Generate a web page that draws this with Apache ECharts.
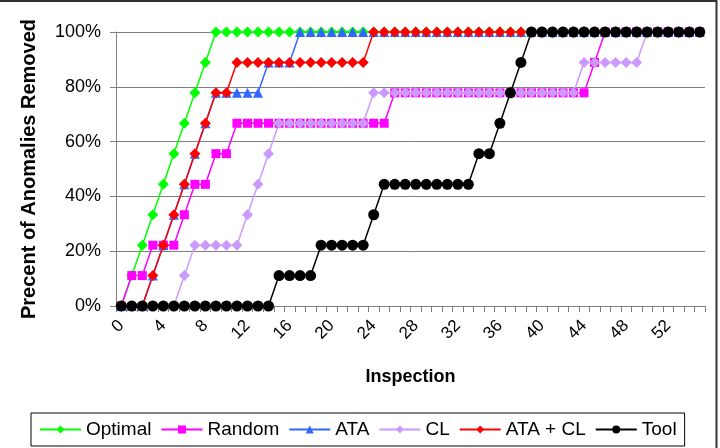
<!DOCTYPE html>
<html>
<head>
<meta charset="utf-8">
<script src="https://cdn.jsdelivr.net/npm/echarts@6/dist/echarts.min.js"></script>
<style>
  html, body { margin: 0; padding: 0; background: #fff; }
  #chart { width: 720px; height: 448px; }
</style>
</head>
<body>
<div id="chart"></div>
<script>
// inspection steps 0..55
const inspections = Array.from({ length: 56 }, (_, i) => String(i))

// percent of anomalies removed (9 anomalies -> steps of 11.1%)
const optimal = [
  0, 11.1, 22.2, 33.3, 44.4, 55.6, 66.7, 77.8, 88.9, 100,
  100, 100, 100, 100, 100, 100, 100, 100, 100, 100,
  100, 100, 100, 100, 100, 100, 100, 100, 100, 100,
  100, 100, 100, 100, 100, 100, 100, 100, 100, 100,
  100, 100, 100, 100, 100, 100, 100, 100, 100, 100,
  100, 100, 100, 100, 100, 100
]
const random = [
  0, 11.1, 11.1, 22.2, 22.2, 22.2, 33.3, 44.4, 44.4, 55.6,
  55.6, 66.7, 66.7, 66.7, 66.7, 66.7, 66.7, 66.7, 66.7, 66.7,
  66.7, 66.7, 66.7, 66.7, 66.7, 66.7, 77.8, 77.8, 77.8, 77.8,
  77.8, 77.8, 77.8, 77.8, 77.8, 77.8, 77.8, 77.8, 77.8, 77.8,
  77.8, 77.8, 77.8, 77.8, 77.8, 88.9, 100, 100, 100, 100,
  100, 100, 100, 100, 100, 100
]
const ata = [
  0, 0, 0, 11.1, 22.2, 33.3, 44.4, 55.6, 66.7, 77.8,
  77.8, 77.8, 77.8, 77.8, 88.9, 88.9, 88.9, 100, 100, 100,
  100, 100, 100, 100, 100, 100, 100, 100, 100, 100,
  100, 100, 100, 100, 100, 100, 100, 100, 100, 100,
  100, 100, 100, 100, 100, 100, 100, 100, 100, 100,
  100, 100, 100, 100, 100, 100
]
const cl = [
  0, 0, 0, 0, 0, 0, 11.1, 22.2, 22.2, 22.2,
  22.2, 22.2, 33.3, 44.4, 55.6, 66.7, 66.7, 66.7, 66.7, 66.7,
  66.7, 66.7, 66.7, 66.7, 77.8, 77.8, 77.8, 77.8, 77.8, 77.8,
  77.8, 77.8, 77.8, 77.8, 77.8, 77.8, 77.8, 77.8, 77.8, 77.8,
  77.8, 77.8, 77.8, 77.8, 88.9, 88.9, 88.9, 88.9, 88.9, 88.9,
  100, 100, 100, 100, 100, 100
]
const ataCl = [
  0, 0, 0, 11.1, 22.2, 33.3, 44.4, 55.6, 66.7, 77.8,
  77.8, 88.9, 88.9, 88.9, 88.9, 88.9, 88.9, 88.9, 88.9, 88.9,
  88.9, 88.9, 88.9, 88.9, 100, 100, 100, 100, 100, 100,
  100, 100, 100, 100, 100, 100, 100, 100, 100, 100,
  100, 100, 100, 100, 100, 100, 100, 100, 100, 100,
  100, 100, 100, 100, 100, 100
]
const tool = [
  0, 0, 0, 0, 0, 0, 0, 0, 0, 0,
  0, 0, 0, 0, 0, 11.1, 11.1, 11.1, 11.1, 22.2,
  22.2, 22.2, 22.2, 22.2, 33.3, 44.4, 44.4, 44.4, 44.4, 44.4,
  44.4, 44.4, 44.4, 44.4, 55.6, 55.6, 66.7, 77.8, 88.9, 100,
  100, 100, 100, 100, 100, 100, 100, 100, 100, 100,
  100, 100, 100, 100, 100, 100
]

const font = 'Arial, "Liberation Sans", sans-serif'

const mkSeries = (name, data, color, symbol, size) => ({
  name,
  type: 'line',
  data,
  symbol,
  symbolSize: size,
  showAllSymbol: true,
  animation: false,
  lineStyle: { color, width: 1.5 },
  itemStyle: { color }
})

const chart = echarts.init(document.getElementById('chart'))
chart.setOption({
  animation: false,
  backgroundColor: '#fff',
  textStyle: { fontFamily: font },
  graphic: [
    {
      type: 'rect',
      shape: { x: -5, y: 1, width: 721.5, height: 460 },
      style: { fill: 'none', stroke: '#333', lineWidth: 2 }
    }
  ],
  grid: { left: 116, right: 15, top: 32, bottom: 142 },
  legend: {
    left: 31,
    top: 413,
    padding: [7, 8, 7, 8],
    itemGap: 9,
    itemWidth: 41,
    itemHeight: 10,
    borderColor: '#000',
    borderWidth: 1,
    textStyle: { fontSize: 19, color: '#000', fontFamily: font },
    data: ['Optimal', 'Random', 'ATA', 'CL', 'ATA + CL', 'Tool']
  },
  xAxis: {
    type: 'category',
    data: inspections,
    boundaryGap: true,
    name: 'Inspection',
    nameLocation: 'middle',
    nameGap: 62,
    nameTextStyle: { fontSize: 18, fontWeight: 'bold', color: '#000' },
    axisLine: { lineStyle: { color: '#808080', width: 1 } },
    axisTick: { show: true, interval: 0, length: 6, lineStyle: { color: '#808080' } },
    axisLabel: { interval: 3, rotate: 45, fontSize: 17, color: '#000', margin: 17 },
    splitLine: { show: false }
  },
  yAxis: {
    type: 'value',
    min: 0,
    max: 100,
    interval: 20,
    name: 'Precent of Anomalies Removed',
    nameLocation: 'middle',
    nameRotate: 90,
    nameGap: 77,
    nameTextStyle: { fontSize: 20, fontWeight: 'bold', color: '#000' },
    axisLine: { show: true, lineStyle: { color: '#808080', width: 1 } },
    axisTick: { show: true, length: 6, lineStyle: { color: '#808080' } },
    axisLabel: { formatter: '{value}%', fontSize: 18, color: '#000', margin: 15 },
    splitLine: { show: true, lineStyle: { color: '#808080', width: 1 } }
  },
  series: [
    mkSeries('Optimal', optimal, '#00ff00', 'diamond', 11),
    mkSeries('Random', random, '#ff00ff', 'rect', 9),
    mkSeries('ATA', ata, '#3366ff', 'triangle', 10),
    mkSeries('CL', cl, '#cc99ff', 'diamond', 11),
    mkSeries('ATA + CL', ataCl, '#ff0000', 'diamond', 11),
    mkSeries('Tool', tool, '#000000', 'circle', 11)
  ]
})
</script>
</body>
</html>
